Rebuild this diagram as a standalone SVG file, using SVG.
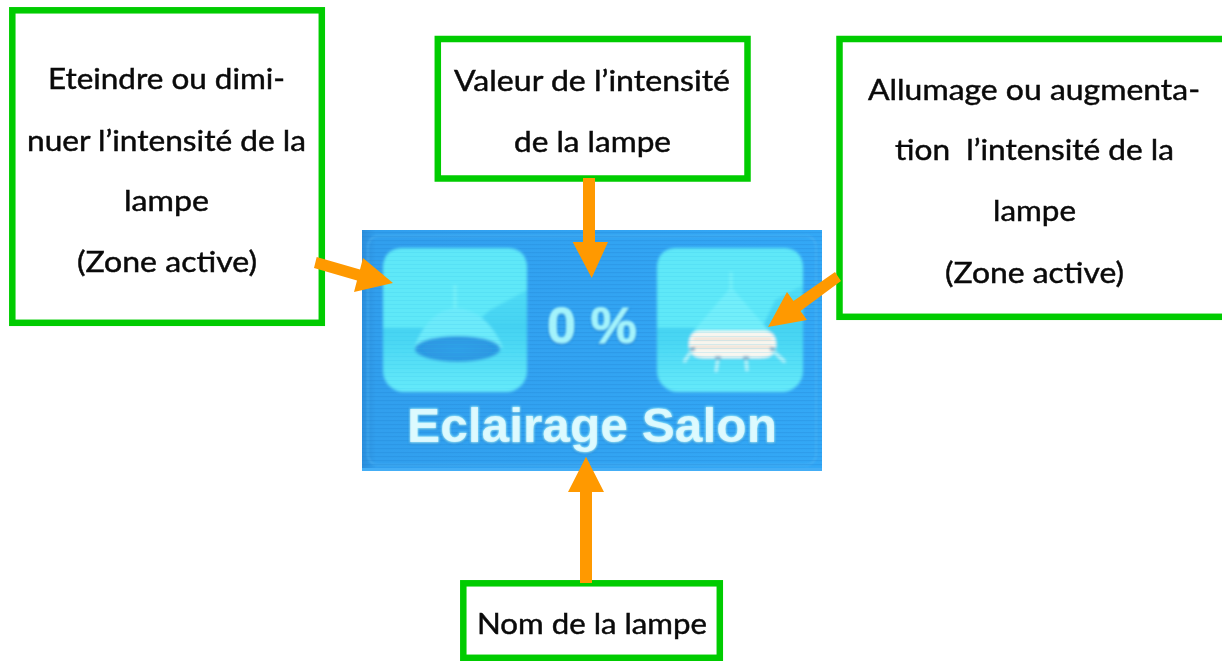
<svg xmlns="http://www.w3.org/2000/svg" width="1222" height="661" viewBox="0 0 1222 661">
<style>
.box{fill:#fff;stroke:#00cc00;stroke-width:6.5}
.lbl{font-family:"Lato","Noto Sans",sans-serif;font-size:28px;font-weight:400;fill:#0a0a0a;stroke:#0a0a0a;stroke-width:.45}
.arr{fill:#ff9900}
.ui{font-family:"Liberation Sans",Arial,sans-serif;font-weight:700}
.halo{fill:#a4f3fb;stroke:#a4f3fb;stroke-width:.8}
.core{fill:#f0fdff}
.shade{fill:#1878c8;stroke:#1878c8;stroke-width:2;opacity:.55}
.gloss{fill:#5ee8f8}
</style>
<defs>
<filter id="soft" x="-5%" y="-5%" width="110%" height="110%"><feGaussianBlur stdDeviation="1.4"/></filter>
<filter id="edge" x="-5%" y="-5%" width="110%" height="110%"><feGaussianBlur stdDeviation="1"/></filter>
<filter id="glow" x="-10%" y="-20%" width="120%" height="140%"><feGaussianBlur stdDeviation="1"/></filter>
<filter id="core" x="-10%" y="-20%" width="120%" height="140%"><feGaussianBlur stdDeviation="0.7"/></filter>
<pattern id="scan" width="6" height="4" patternUnits="userSpaceOnUse"><rect width="6" height="1.2" fill="#1f7fd0" opacity=".28"/></pattern>
<pattern id="scanL" width="6" height="4" patternUnits="userSpaceOnUse"><rect width="6" height="1" fill="#2bbbe6" opacity=".16"/></pattern>
<radialGradient id="bowl" cx=".5" cy=".5" r=".6"><stop offset="0" stop-color="#2f9fe8"/><stop offset=".75" stop-color="#2c97e2"/><stop offset="1" stop-color="#46c4ee"/></radialGradient>
<linearGradient id="panelFill" x1="0" y1="0" x2="1" y2="0"><stop offset="0" stop-color="#2c8edc"/><stop offset=".03" stop-color="#319fee"/><stop offset="1" stop-color="#33a8f6"/></linearGradient>
<linearGradient id="lower" x1="0" y1="0" x2="0" y2="1"><stop offset="0" stop-color="#5ee6f8"/><stop offset=".55" stop-color="#44d2f2"/><stop offset=".7" stop-color="#4edaf4"/><stop offset="1" stop-color="#66eafa"/></linearGradient>
</defs>

<g id="panel">
<rect x="362" y="230" width="460" height="241" fill="url(#panelFill)"/>
<rect x="368" y="236" width="448" height="229" rx="10" fill="none" stroke="#52b6f4" stroke-width="1.5" opacity=".7" filter="url(#edge)"/>
<rect x="362" y="230" width="460" height="241" fill="url(#scan)"/>
<rect x="362" y="468" width="460" height="3" fill="#44aef6"/>
<g filter="url(#soft)">
<rect x="383" y="248" width="144" height="144" rx="21" fill="url(#lower)"/>
<path class="gloss" d="M404 248H506Q527 248 527 269V290L490 310L470 328H383V269Q383 248 404 248Z"/>
<path d="M453.500 285H456.500V312H453.500Z" fill="#76f0f8"/>
<path d="M456 308C436 309 422 326 414 348H503C494 326 478 309 456 308Z" fill="#6ceafa"/>
<ellipse cx="457.500" cy="349" rx="43" ry="13" fill="url(#bowl)"/>
<rect x="657" y="248" width="146" height="144" rx="21" fill="url(#lower)"/>
<path class="gloss" d="M678 248H782Q803 248 803 269V285L775 300L762 328H657V269Q657 248 678 248Z"/>
<path d="M729.500 272H732.500V292H729.500Z" fill="#76f0f8"/>
<path d="M731 287L692 333H771Z" fill="#72eefa"/>
<path d="M700 331H764Q776 331 776 345Q776 358 760 358H704Q689 358 689 345Q689 331 700 331Z" fill="#f8f6f0"/>
<path d="M693 339H772M692 347H772" stroke="#e8cdb8" stroke-width="1.4" fill="none"/>
<path d="M692 350L684 362M718 358L716 372M746 358L747 371M772 350L785 362" stroke="#bdf5fa" stroke-width="2.6" fill="none"/>
<path d="M690 349h5M715 358h6M743 358h6M770 349h5" stroke="#6f9fc0" stroke-width="3" fill="none"/>
</g>
<rect x="383" y="248" width="144" height="144" rx="21" fill="url(#scanL)"/>
<rect x="657" y="248" width="146" height="144" rx="21" fill="url(#scanL)"/>
<g filter="url(#glow)">
<text class="ui shade" x="547" y="344" font-size="50" textLength="90" lengthAdjust="spacingAndGlyphs">0 %</text>
<text class="ui shade" x="407" y="443" font-size="49" textLength="370" lengthAdjust="spacingAndGlyphs">Eclairage Salon</text>
<text class="ui halo" x="547" y="343" font-size="50" textLength="90" lengthAdjust="spacingAndGlyphs">0 %</text>
<text class="ui halo" x="407" y="442" font-size="49" textLength="370" lengthAdjust="spacingAndGlyphs">Eclairage Salon</text>
</g>
<g filter="url(#core)" opacity=".75">
<text class="ui core" x="407" y="442" font-size="49" textLength="370" lengthAdjust="spacingAndGlyphs">Eclairage Salon</text>
</g>
</g>

<g id="node-eteindre">
<rect class="box" x="12.300" y="10.300" width="309.500" height="312.500"/>
<text class="lbl" x="48" y="89" textLength="237" lengthAdjust="spacingAndGlyphs">Eteindre ou dimi-</text>
<text class="lbl" x="27" y="151" textLength="279" lengthAdjust="spacingAndGlyphs">nuer l’intensité de la</text>
<text class="lbl" x="124" y="211" textLength="85" lengthAdjust="spacingAndGlyphs">lampe</text>
<text class="lbl" x="77" y="272" textLength="180" lengthAdjust="spacingAndGlyphs">(Zone active)</text>
</g>

<g id="node-valeur">
<rect class="box" x="437.800" y="39" width="309.700" height="139.500"/>
<text class="lbl" x="454" y="91" textLength="276" lengthAdjust="spacingAndGlyphs">Valeur de l’intensité</text>
<text class="lbl" x="514" y="152" textLength="157" lengthAdjust="spacingAndGlyphs">de la lampe</text>
</g>

<g id="node-allumage">
<rect class="box" x="839.500" y="39" width="392" height="277.800"/>
<text class="lbl" x="868" y="100" textLength="332" lengthAdjust="spacingAndGlyphs">Allumage ou augmenta-</text>
<text class="lbl" x="895" y="160" textLength="279" lengthAdjust="spacingAndGlyphs" xml:space="preserve">tion  l’intensité de la</text>
<text class="lbl" x="993" y="221" textLength="83" lengthAdjust="spacingAndGlyphs">lampe</text>
<text class="lbl" x="945" y="283" textLength="179" lengthAdjust="spacingAndGlyphs">(Zone active)</text>
</g>

<g id="node-nom">
<rect class="box" x="463.300" y="583.300" width="256.500" height="74.500"/>
<text class="lbl" x="477" y="634" textLength="230" lengthAdjust="spacingAndGlyphs">Nom de la lampe</text>
</g>

<g id="connectors">
<path class="arr" d="M583 178H595V242H608L591.700 278L572.700 242H583Z"/>
<path class="arr" d="M316.700 257L360 269.500L363 258L393 283L354 292L357 280.500L314 268Z"/>
<path class="arr" d="M835 272L841 281L800.500 311L807 320L768 327L787 292L793.500 301Z"/>
<path class="arr" d="M580 583V492H568L586 456.700L604 492H592V583Z"/>
</g>
</svg>
